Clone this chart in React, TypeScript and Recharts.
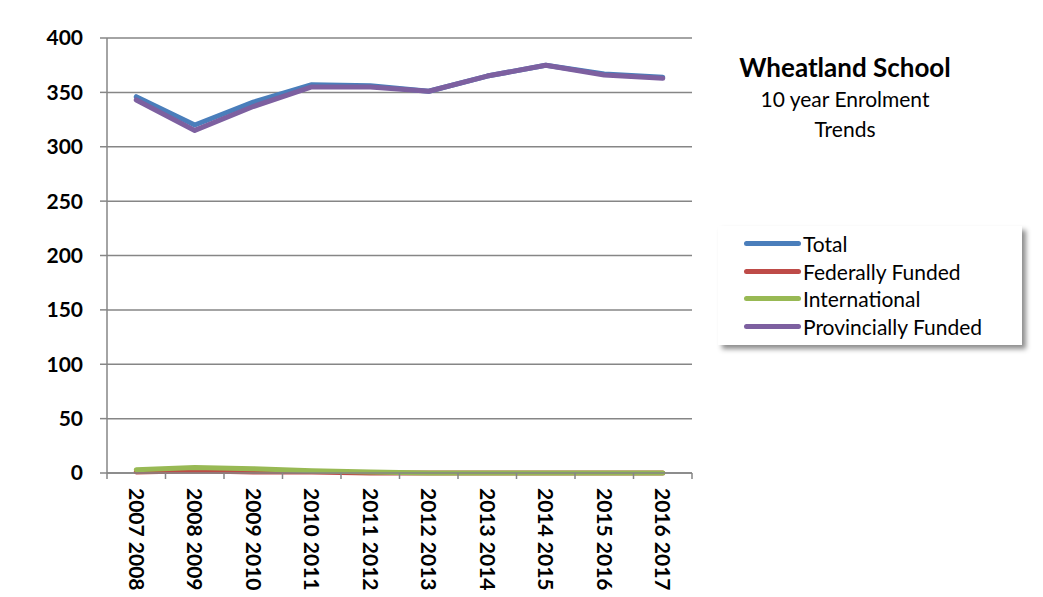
import React from 'react';
import { LineChart, Line, XAxis, YAxis, CartesianGrid, Legend } from 'recharts';

const years = [
  '2007 2008', '2008 2009', '2009 2010', '2010 2011', '2011 2012',
  '2012 2013', '2013 2014', '2014 2015', '2015 2016', '2016 2017',
];
const total = [346, 320, 341, 357, 356, 351, 365, 375, 367, 364];
const federallyFunded = [1, 2, 1, 1, 0, 0, 0, 0, 0, 0];
const international = [3, 5, 4, 2, 1, 0, 0, 0, 0, 0];
const provinciallyFunded = [343, 315, 337, 355, 355, 351, 365, 375, 366, 363];
const yTicks = [0, 50, 100, 150, 200, 250, 300, 350, 400];

const series = [
  { key: 'total', name: 'Total', color: '#4a7ebb' },
  { key: 'federal', name: 'Federally Funded', color: '#be4b48' },
  { key: 'international', name: 'International', color: '#98b954' },
  { key: 'provincial', name: 'Provincially Funded', color: '#7d60a0' },
];

const data = years.map((year, i) => ({
  year,
  total: total[i],
  federal: federallyFunded[i],
  international: international[i],
  provincial: provinciallyFunded[i],
}));

const FONT = 'Lato, "Open Sans", sans-serif';
const AXIS_GREY = '#868686';

const XTick = (props: any) => {
  const { x, y, payload, index, visibleTicksCount, width } = props;
  const band = width / visibleTicksCount;
  const isLast = index === visibleTicksCount - 1;
  return (
    <g>
      <line x1={x - band / 2} y1={y} x2={x - band / 2} y2={y + 6} stroke={AXIS_GREY} strokeWidth={1.5} />
      {isLast && (
        <line x1={x + band / 2} y1={y} x2={x + band / 2} y2={y + 6} stroke={AXIS_GREY} strokeWidth={1.5} />
      )}
      <g transform={`translate(${x},${y + 15})`}>
        <text
          transform="rotate(90)"
          textAnchor="start"
          dy="0.36em"
          fontFamily={FONT}
          fontWeight={700}
          fontSize={21}
          fill="#000"
        >
          {payload.value}
        </text>
      </g>
    </g>
  );
};

const LegendBox = () => (
  <div
    style={{
      background: '#fff',
      boxShadow: '4px 4px 5px rgba(0,0,0,0.45)',
      width: 304,
      height: 119,
      boxSizing: 'border-box',
      padding: '4px 0 0 0',
      fontFamily: FONT,
      fontSize: 21,
      color: '#000',
    }}
  >
    {series.map((s) => (
      <div key={s.key} style={{ display: 'flex', alignItems: 'center', height: 27.5, paddingLeft: 26 }}>
        <div style={{ width: 57, height: 5, borderRadius: 2.5, background: s.color, marginRight: 2 }} />
        <span>{s.name}</span>
      </div>
    ))}
  </div>
);

export default function App() {
  return (
    <div style={{ position: 'absolute', left: 0, top: 0, width: 1043, height: 597, background: '#fff' }}>
      <LineChart
        width={1043}
        height={597}
        data={data}
        margin={{ top: 38, right: 351, left: 47, bottom: 4 }}
      >
        <CartesianGrid vertical={false} stroke={AXIS_GREY} strokeWidth={1.5} />
        <XAxis
          dataKey="year"
          interval={0}
          height={120}
          padding={{ left: 29.25, right: 29.25 }}
          tickLine={false}
          tickSize={0}
          tickMargin={0}
          axisLine={{ stroke: AXIS_GREY, strokeWidth: 1.5 }}
          tick={<XTick />}
        />
        <YAxis
          domain={[0, 400]}
          ticks={yTicks}
          width={60}
          tickSize={7}
          tickMargin={17}
          axisLine={{ stroke: AXIS_GREY, strokeWidth: 1.5 }}
          tickLine={{ stroke: AXIS_GREY, strokeWidth: 1.5 }}
          tick={{ fill: '#000', fontSize: 21, fontWeight: 700, fontFamily: FONT }}
        />
        <Legend
          layout="horizontal"
          verticalAlign="middle"
          align="center"
          content={<LegendBox />}
          wrapperStyle={{ left: 718, top: 226, width: 304 }}
        />
        {series.map((s) => (
          <Line
            key={s.key}
            type="linear"
            dataKey={s.key}
            name={s.name}
            stroke={s.color}
            strokeWidth={5}
            strokeLinejoin="round"
            strokeLinecap="round"
            dot={false}
            isAnimationActive={false}
          />
        ))}
      </LineChart>
      <div
        style={{
          position: 'absolute',
          left: 705,
          top: 50,
          width: 280,
          textAlign: 'center',
          fontFamily: FONT,
          color: '#000',
        }}
      >
        <div style={{ fontSize: 26, fontWeight: 700, lineHeight: '34px' }}>Wheatland School</div>
        <div style={{ fontSize: 21, lineHeight: '30px' }}>10 year Enrolment</div>
        <div style={{ fontSize: 21, lineHeight: '30px' }}>Trends</div>
      </div>
    </div>
  );
}
